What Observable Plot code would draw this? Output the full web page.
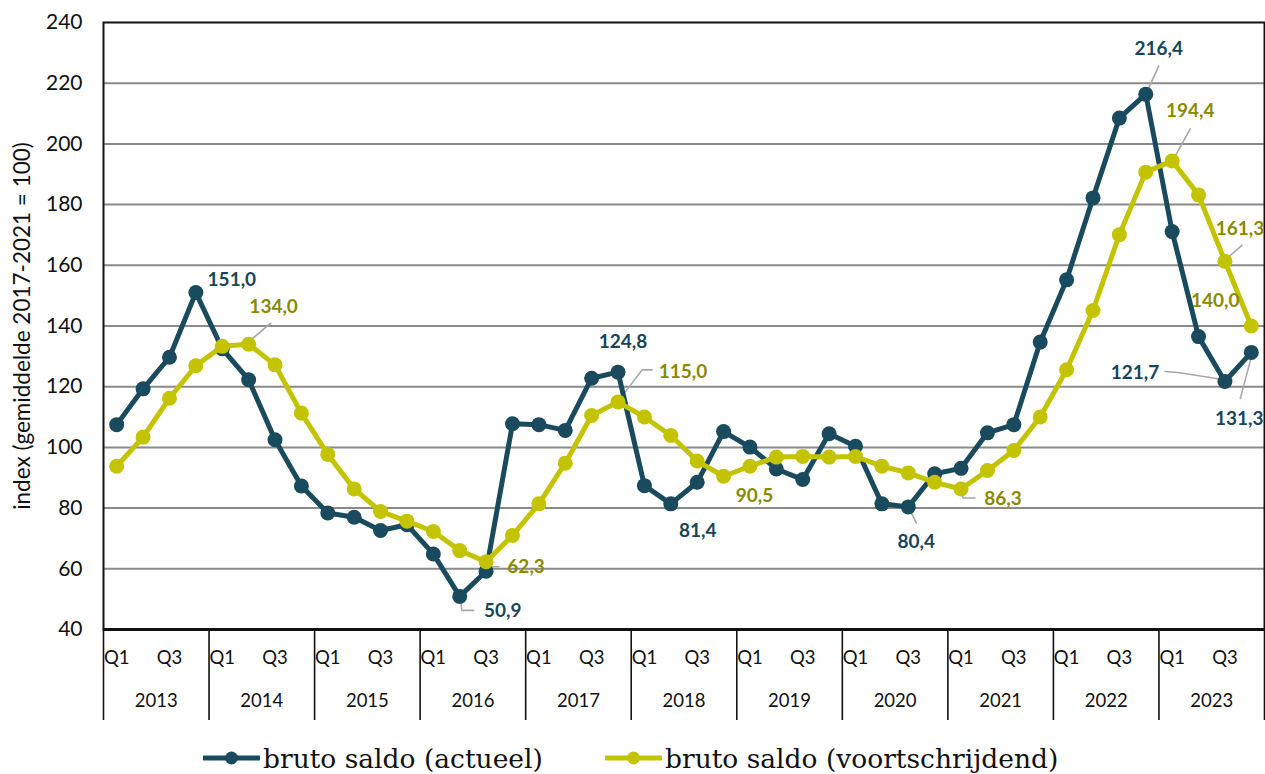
<!DOCTYPE html>
<html><head><meta charset="utf-8">
<script src="https://cdn.jsdelivr.net/npm/d3@7"></script>
<script src="https://cdn.jsdelivr.net/npm/@observablehq/plot@0.6"></script>
<style>
body{margin:0;background:#fff;}
#legend{position:relative;width:1265px;height:44px;font-family:"DejaVu Serif";font-size:26.5px;color:#111;}
.item{position:absolute;top:8px;height:40px;display:flex;align-items:center;white-space:nowrap;}
.item svg{margin-right:3px;}
</style></head><body>
<div id="chart"></div>
<div id="legend"></div>
<script>
// ---- data ----
const years = [2013, 2014, 2015, 2016, 2017, 2018, 2019, 2020, 2021, 2022, 2023];
const quarterTicks = ["Q1", "Q3"];
const yTicks = [40, 60, 80, 100, 120, 140, 160, 180, 200, 220, 240];
const seriesNames = ["bruto saldo (actueel)", "bruto saldo (voortschrijdend)"];
const actueel = [
  107.5, 119.3, 129.7, 151.0,
  132.5, 122.3, 102.5, 87.3,
  78.4, 77.0, 72.6, 74.5,
  64.9, 50.9, 59.2, 107.8,
  107.5, 105.6, 122.8, 124.8,
  87.4, 81.4, 88.5, 105.2,
  100.1, 92.9, 89.4, 104.5,
  100.4, 81.4, 80.4, 91.3,
  93.1, 104.8, 107.5, 134.7,
  155.2, 182.2, 208.5, 216.4,
  171.1, 136.5, 121.7, 131.3
];
const voortschrijdend = [
  93.8, 103.4, 116.2, 126.9,
  133.3, 134.0, 127.2, 111.3,
  97.7, 86.3, 78.9, 75.7,
  72.3, 66.0, 62.3, 71.0,
  81.4, 94.8, 110.5, 115.0,
  110.0, 103.9, 95.5, 90.5,
  93.8, 96.8, 97.0, 96.8,
  97.0, 93.8, 91.6, 88.5,
  86.3, 92.4, 99.0, 110.0,
  125.6, 145.1, 170.1, 190.7,
  194.4, 183.2, 161.3, 140.0
];
const labelledActueel = [3, 13, 19, 21, 30, 39, 42, 43];
const labelledVoortschrijdend = [5, 14, 19, 23, 32, 40, 42, 43];
const yAxisTitle = "index (gemiddelde 2017-2021 = 100)";

// ---- layout (pixel offsets of the value labels and leader lines) ----
const placement = {
  a3:  {dx: 36, dy: -13},
  a13: {dx: 43, dy: 14, leader: [[1, 3], [2, 14], [14, 14]]},
  a19: {dx: 5, dy: -30},
  a21: {dx: 27, dy: 27},
  a30: {dx: 8, dy: 35, leader: [[1, 2], [8, 16]]},
  a39: {dx: 13, dy: -45, leader: [[1, -2], [13, -28]]},
  a42: {dx: -90, dy: -9, leader: [[-2, -2], [-47, -9], [-60, -10]]},
  a43: {dx: -12, dy: 67, leader: [[1, 1], [-11, 46]]},
  v5:  {dx: 25, dy: -37, leader: [[2, -4], [22, -21]]},
  v14: {dx: 40, dy: 5, leader: [[0, 2], [2, 5], [13, 5]]},
  v19: {dx: 65, dy: -30, leader: [[2, -3], [24, -32], [34, -32]]},
  v23: {dx: 31, dy: 20},
  v32: {dx: 42, dy: 10, leader: [[0, 2], [2, 9], [14, 9]]},
  v40: {dx: 18, dy: -50, leader: [[1, -1], [18, -32]]},
  v42: {dx: 15, dy: -32, leader: [[2, -3], [17, -16]]},
  v43: {dx: -36, dy: -25}
};

const W = 1265, H = 730, mL = 103, mR = 1, mT = 22, mB = 101;
const nQ = actueel.length;
const kx = (W - mL - mR) / nQ;
const ky = (H - mT - mB) / (yTicks[yTicks.length - 1] - yTicks[0]);

const BLUE = "#1a4a5e", YELLOW = "#c4c300";
const BLUE_T = "#17465a", OLIVE_T = "#8a8a00";

const rows = [];
actueel.forEach((v, i) => rows.push({s: seriesNames[0], i, x: i + 0.5, y: v}));
voortschrijdend.forEach((v, i) => rows.push({s: seriesNames[1], i, x: i + 0.5, y: v}));

const fmt = v => v.toFixed(1).replace(".", ",");
const labels = [];
const leaders = [];
function addLabels(arr, idxs, key, color) {
  idxs.forEach(i => {
    const p = placement[key + i];
    const v = arr[i];
    labels.push({x: i + 0.5 + p.dx / kx, y: v - p.dy / ky, text: fmt(v), color});
    if (p.leader) {
      p.leader.forEach(([ox, oy]) => leaders.push({id: key + i, x: i + 0.5 + ox / kx, y: v - oy / ky}));
    }
  });
}
addLabels(actueel, labelledActueel, "a", BLUE_T);
addLabels(voortschrijdend, labelledVoortschrijdend, "v", OLIVE_T);

const qLabels = [];
years.forEach((yr, yi) => quarterTicks.forEach(q => {
  const qi = +q.slice(1) - 1;
  qLabels.push({x: yi * 4 + qi + 0.5, text: q});
}));
const yearLabels = years.map((yr, yi) => ({x: yi * 4 + 2, text: String(yr)}));
const boundaries = years.map((yr, yi) => yi * 4).concat([nQ]);
const gridVals = yTicks.slice(1, -1);
const yMin = yTicks[0];

const chart = Plot.plot({
  width: W, height: H,
  marginLeft: mL, marginRight: mR, marginTop: mT, marginBottom: mB,
  style: {fontFamily: "Lato", fontSize: "21px", color: "#111", background: "#fff", overflow: "hidden"},
  x: {domain: [0, nQ], axis: null},
  y: {domain: [yTicks[0], yTicks[yTicks.length - 1]], ticks: yTicks},
  marks: [
    Plot.ruleY(gridVals, {stroke: "#8a8a8a", strokeWidth: 2}),
    Plot.axisY(yTicks, {tickSize: 0, tickPadding: 21, fontSize: 21, label: null}),
    Plot.text([yAxisTitle], {frameAnchor: "left", textAnchor: "middle", rotate: -90, dx: -81, fontSize: 22.5, fill: "#111", style: "letter-spacing:0.6px"}),
    Plot.ruleX(boundaries, {x: d => d, y1: yMin, y2: yMin - 91 / ky, stroke: "#111", strokeWidth: 1.6}),
    Plot.text(qLabels, {x: "x", text: "text", frameAnchor: "bottom", dy: 34, fontSize: 18.5, fill: "#111"}),
    Plot.text(yearLabels, {x: "x", text: "text", frameAnchor: "bottom", dy: 77, fontSize: 18.5, fill: "#111"}),
    Plot.frame({stroke: "#111", strokeWidth: 2}),
    Plot.ruleY([yMin], {stroke: "#111", strokeWidth: 3}),
    Plot.line(leaders, {x: "x", y: "y", z: "id", stroke: "#a8a8a8", strokeWidth: 1.6}),
    Plot.line(rows.filter(d => d.s === seriesNames[0]), {x: "x", y: "y", stroke: BLUE, strokeWidth: 5, strokeLinejoin: "round"}),
    Plot.dot(rows.filter(d => d.s === seriesNames[0]), {x: "x", y: "y", r: 7.5, fill: BLUE}),
    Plot.line(rows.filter(d => d.s === seriesNames[1]), {x: "x", y: "y", stroke: YELLOW, strokeWidth: 5, strokeLinejoin: "round"}),
    Plot.dot(rows.filter(d => d.s === seriesNames[1]), {x: "x", y: "y", r: 7.5, fill: YELLOW}),
    Plot.text(labels, {x: "x", y: "y", text: "text", fill: "color", fontSize: 19, fontWeight: "bold"})
  ]
});
document.getElementById("chart").appendChild(chart);

// legend
const legend = document.getElementById("legend");
const legendPos = [203, 605];
[BLUE, YELLOW].forEach((c, k) => {
  const item = document.createElement("div");
  item.className = "item";
  item.style.left = legendPos[k] + "px";
  item.innerHTML = `<svg width="57" height="16"><line x1="1" y1="8" x2="56" y2="8" stroke="${c}" stroke-width="5" stroke-linecap="round"/><circle cx="28.5" cy="8" r="6.5" fill="${c}"/></svg><span>${seriesNames[k]}</span>`;
  legend.appendChild(item);
});
</script>
</body></html>
